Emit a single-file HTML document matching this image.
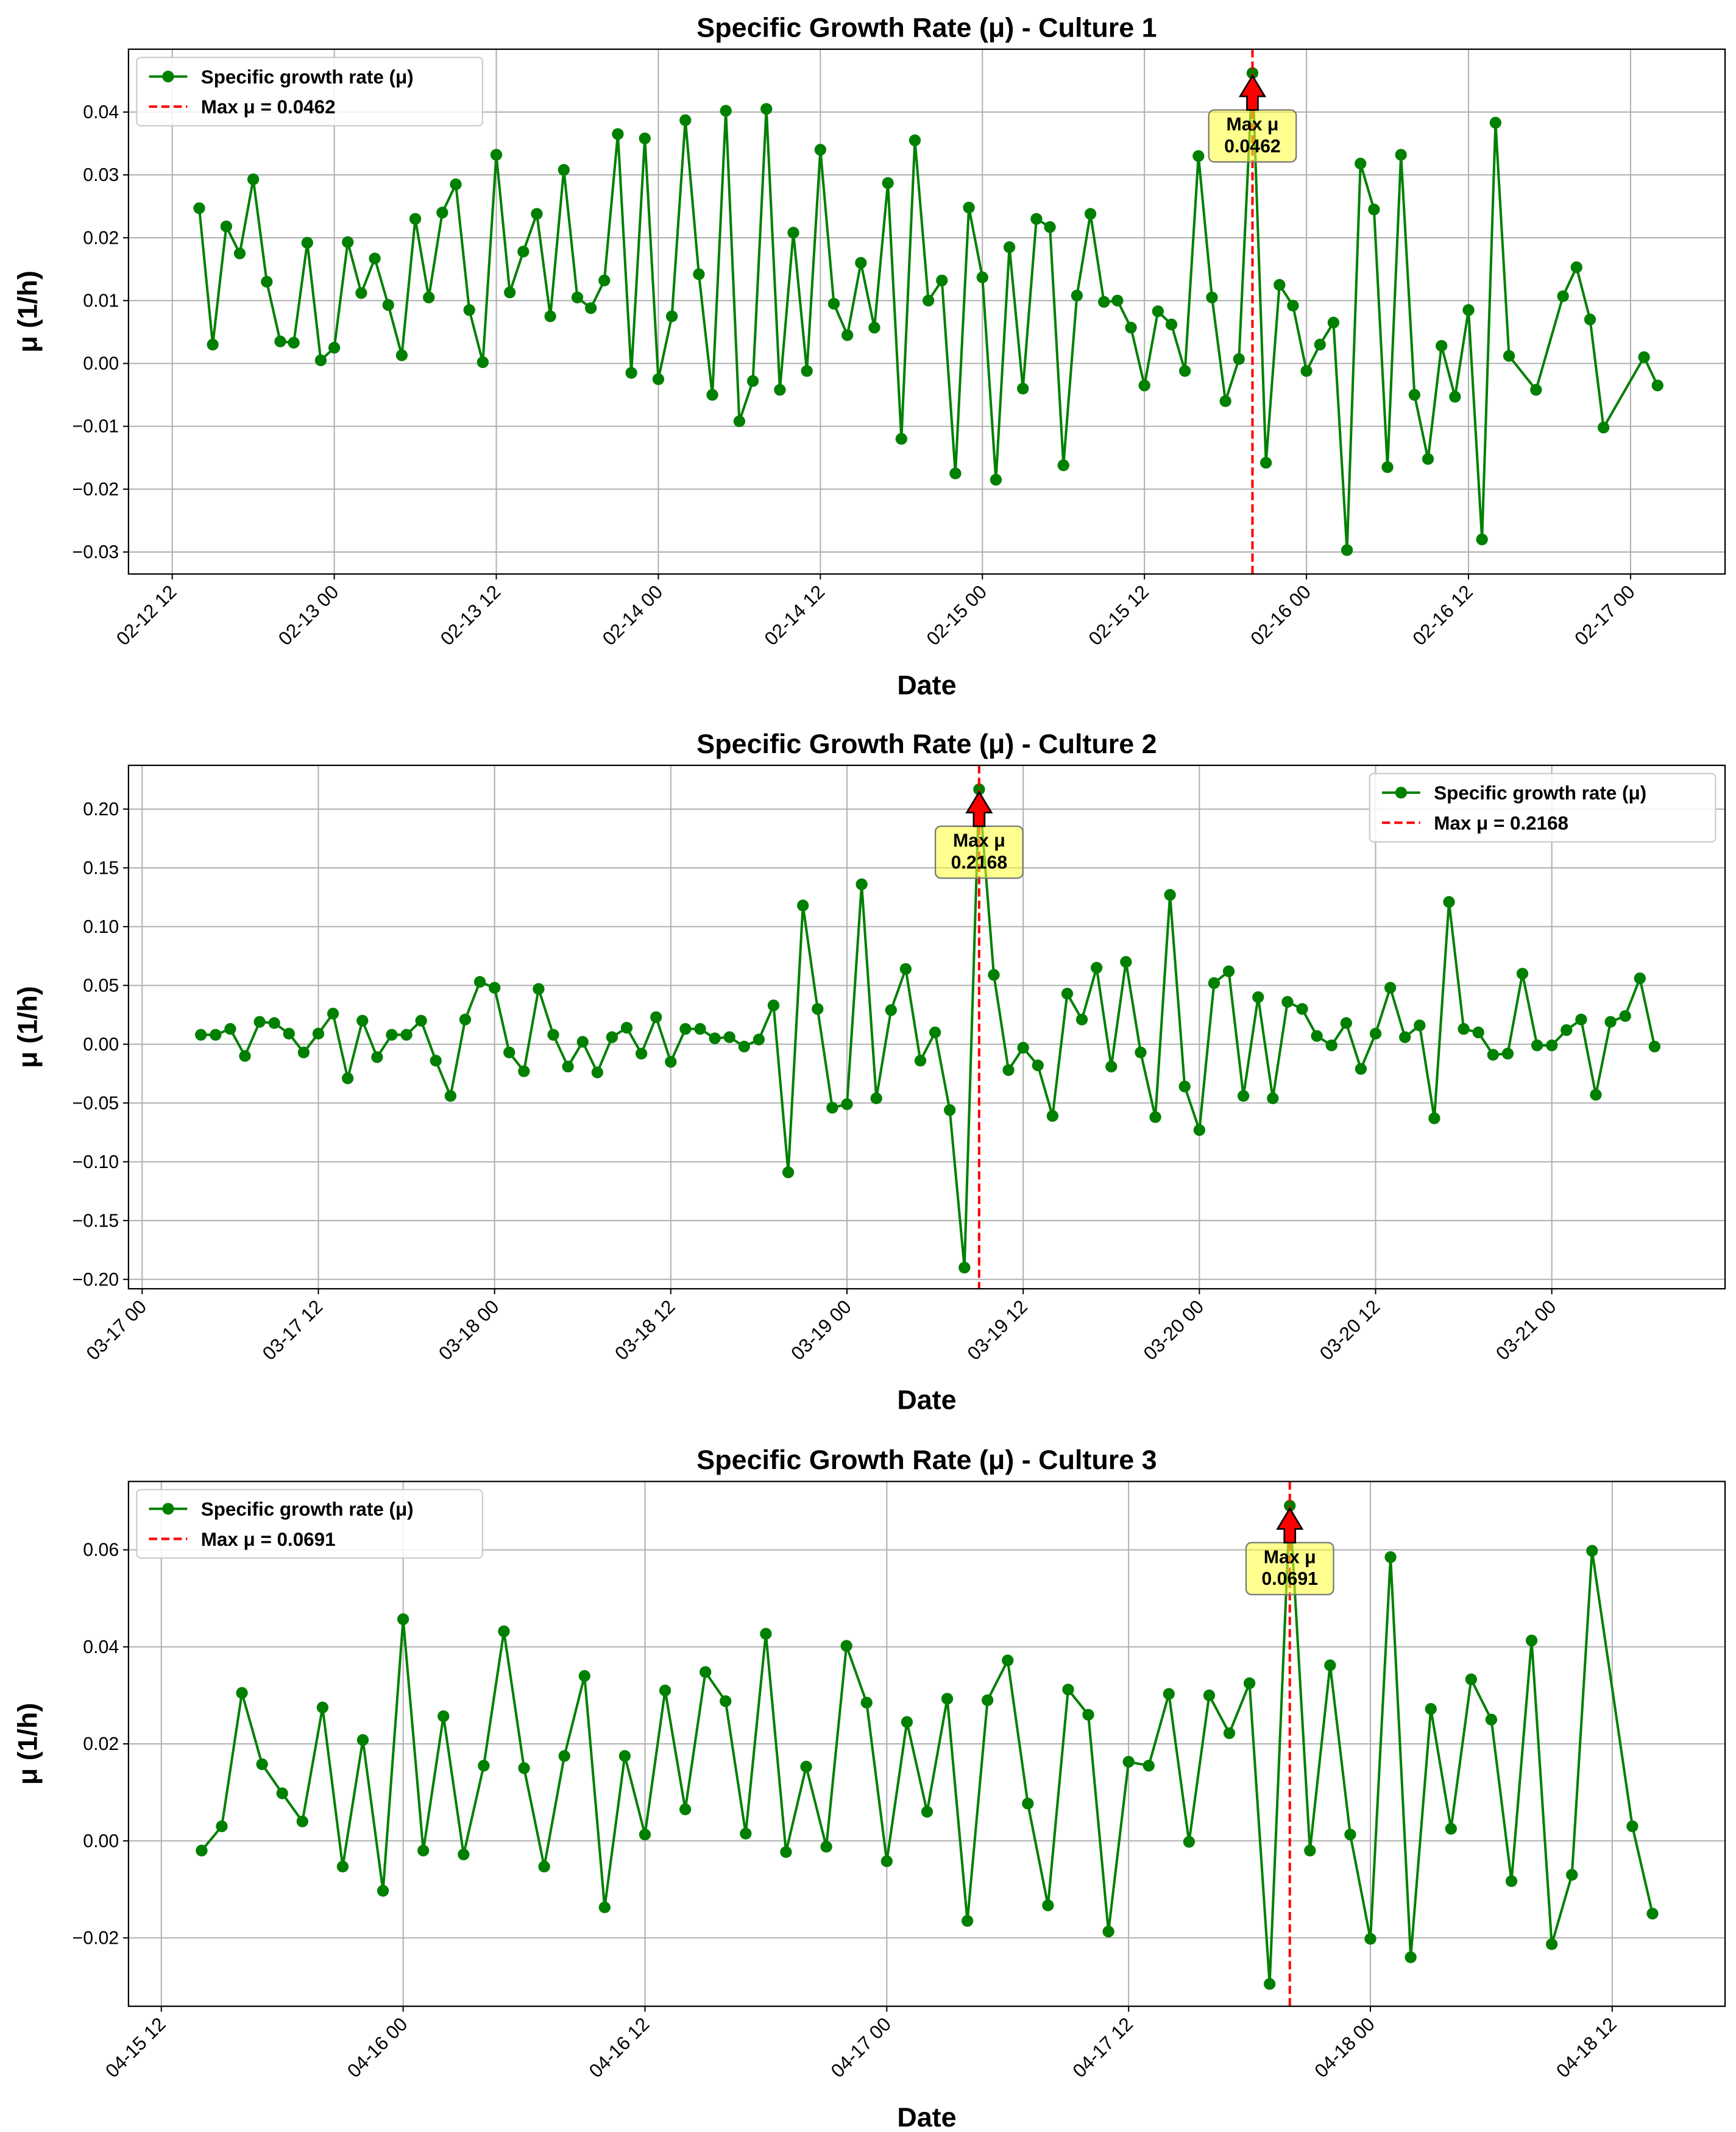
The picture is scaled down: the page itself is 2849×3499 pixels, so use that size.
<!DOCTYPE html>
<html><head><meta charset="utf-8"><style>
html,body{margin:0;padding:0;background:#fff;}
svg{display:block;font-family:"Liberation Sans","DejaVu Sans",sans-serif;}
</style></head><body>
<svg id="fig" width="2849" height="3499" viewBox="0 0 1270 1560" preserveAspectRatio="none" xmlns="http://www.w3.org/2000/svg"></svg>
<script>
// ---- Culture 1 data (hours since 02-12 12:00) ----
const c1Hours=[2,3,4,5,6,7,8,9,10,11,12,13,14,15,16,17,18,19,20,21,22,23,24,25,26,27,28,29,30,31,32,33,34,35,36,37,38,39,40,41,42,43,44,45,46,47,48,49,50,51,52,53,54,55,56,57,58,59,60,61,62,63,64,65,66,67,68,69,70,71,72,73,74,75,76,77,78,79,80,81,82,83,84,85,86,87,88,89,90,91,92,93,94,95,96,97,98,99,101,103,104,105,106,109,110];
const c1Mu=[.0247,.0030,.0218,.0175,.0293,.0130,.0035,.0033,.0192,.0005,.0025,.0193,.0112,.0167,.0093,.0013,.0230,.0105,.0240,.0285,.0085,.0002,.0332,.0113,.0178,.0238,.0075,.0308,.0105,.0088,.0132,.0365,-.0015,.0358,-.0025,.0075,.0387,.0142,-.0050,.0402,-.0092,-.0028,.0405,-.0042,.0208,-.0012,.0340,.0095,.0045,.0160,.0057,.0287,-.0120,.0355,.0100,.0132,-.0175,.0248,.0137,-.0185,.0185,-.0040,.0230,.0217,-.0162,.0108,.0238,.0098,.0100,.0057,-.0035,.0083,.0062,-.0012,.0330,.0105,-.0060,.0007,.0462,-.0158,.0125,.0092,-.0012,.0030,.0065,-.0297,.0318,.0245,-.0165,.0332,-.0050,-.0152,.0028,-.0053,.0085,-.0280,.0383,.0012,-.0042,.0107,.0153,.0070,-.0102,.0010,-.0035];
const c1XTickHours=[0,12,24,36,48,60,72,84,96,108];
const c1XTickLabels=["02-12 12","02-13 00","02-13 12","02-14 00","02-14 12","02-15 00","02-15 12","02-16 00","02-16 12","02-17 00"];
const c1YTicks=[-0.03,-0.02,-0.01,0,0.01,0.02,0.03,0.04];
const c1YTickLabels=["\u22120.03","\u22120.02","\u22120.01","0.00","0.01","0.02","0.03","0.04"];
// ---- Culture 2 data (hours since 03-17 00:00) ----
const c2Hours=[4,5,6,7,8,9,10,11,12,13,14,15,16,17,18,19,20,21,22,23,24,25,26,27,28,29,30,31,32,33,34,35,36,37,38,39,40,41,42,43,44,45,46,47,48,49,50,51,52,53,54,55,56,57,58,59,60,61,62,63,64,65,66,67,68,69,70,71,72,73,74,75,76,77,78,79,80,81,82,83,84,85,86,87,88,89,90,91,92,93,94,95,96,97,98,99,100,101,102,103];
const c2Mu=[.008,.008,.013,-.010,.019,.018,.009,-.007,.009,.026,-.029,.020,-.011,.008,.008,.020,-.014,-.044,.021,.053,.048,-.007,-.023,.047,.008,-.019,.002,-.024,.006,.014,-.008,.023,-.015,.013,.013,.005,.006,-.002,.004,.033,-.109,.118,.030,-.054,-.051,.136,-.046,.029,.064,-.014,.010,-.056,-.190,.2168,.059,-.022,-.003,-.018,-.061,.043,.021,.065,-.019,.070,-.007,-.062,.127,-.036,-.073,.052,.062,-.044,.040,-.046,.036,.030,.007,-.001,.018,-.021,.009,.048,.006,.016,-.063,.121,.013,.010,-.009,-.008,.060,-.001,-.001,.012,.021,-.043,.019,.024,.056,-.002];
const c2XTickHours=[0,12,24,36,48,60,72,84,96];
const c2XTickLabels=["03-17 00","03-17 12","03-18 00","03-18 12","03-19 00","03-19 12","03-20 00","03-20 12","03-21 00"];
const c2YTicks=[-0.20,-0.15,-0.10,-0.05,0,0.05,0.10,0.15,0.20];
const c2YTickLabels=["\u22120.20","\u22120.15","\u22120.10","\u22120.05","0.00","0.05","0.10","0.15","0.20"];
// ---- Culture 3 data (hours since 04-15 12:00) ----
const c3Hours=[2,3,4,5,6,7,8,9,10,11,12,13,14,15,16,17,18,19,20,21,22,23,24,25,26,27,28,29,30,31,32,33,34,35,36,37,38,39,40,41,42,43,44,45,46,47,48,49,50,51,52,53,54,55,56,57,58,59,60,61,62,63,64,65,66,67,68,69,70,71,73,74];
const c3Mu=[-.002,.003,.0305,.0158,.0098,.0040,.0275,-.0053,.0208,-.0103,.0457,-.0020,.0257,-.0028,.0155,.0432,.0150,-.0053,.0175,.0340,-.0137,.0175,.0013,.0310,.0065,.0348,.0288,.0015,.0427,-.0023,.0153,-.0012,.0402,.0285,-.0042,.0245,.0060,.0293,-.0165,.0290,.0372,.0077,-.0133,.0312,.0260,-.0187,.0163,.0155,.0303,-.0002,.0300,.0222,.0325,-.0295,.0691,-.0020,.0362,.0013,-.0202,.0585,-.0240,.0272,.0025,.0333,.0250,-.0083,.0413,-.0213,-.0070,.0598,.0030,-.0150];
const c3XTickHours=[0,12,24,36,48,60,72];
const c3XTickLabels=["04-15 12","04-16 00","04-16 12","04-17 00","04-17 12","04-18 00","04-18 12"];
const c3YTicks=[-0.02,0,0.02,0.04,0.06];
const c3YTickLabels=["\u22120.02","0.00","0.02","0.04","0.06"];

const NS="http://www.w3.org/2000/svg";
const fig=document.getElementById('fig');
function mk(tag,attrs,parent){const e=document.createElementNS(NS,tag);for(const k in attrs)e.setAttribute(k,attrs[k]);(parent||fig).appendChild(e);return e;}

const panels=[
 {n:1,title:"Specific Growth Rate (\u03bc) - Culture 1",hours:c1Hours,mu:c1Mu,xt:c1XTickHours,xl:c1XTickLabels,yt:c1YTicks,yl:c1YTickLabels,
  L:94,R:1262,T:36,B:420,xmin:-3.24,xmax:115.0,ymin:-0.0335,ymax:0.05,legend:"left",fmt:4},
 {n:2,title:"Specific Growth Rate (\u03bc) - Culture 2",hours:c2Hours,mu:c2Mu,xt:c2XTickHours,xl:c2XTickLabels,yt:c2YTicks,yl:c2YTickLabels,
  L:94,R:1262,T:560,B:943,xmin:-0.93,xmax:107.8,ymin:-0.208,ymax:0.2372,legend:"right",fmt:4},
 {n:3,title:"Specific Growth Rate (\u03bc) - Culture 3",hours:c3Hours,mu:c3Mu,xt:c3XTickHours,xl:c3XTickLabels,yt:c3YTicks,yl:c3YTickLabels,
  L:94,R:1262,T:1084,B:1468,xmin:-1.63,xmax:77.6,ymin:-0.0341,ymax:0.0741,legend:"left",fmt:4}
];

panels.forEach(p=>{
 const g=mk('g',{});
 
 
 const sx=h=>p.L+(h-p.xmin)/(p.xmax-p.xmin)*(p.R-p.L);
 const sy=v=>p.B-(v-p.ymin)/(p.ymax-p.ymin)*(p.B-p.T);
 const t=mk('text',{x:(p.L+p.R)/2,y:p.T-9,'text-anchor':'middle','font-size':20,'font-weight':'bold'},g);
 t.textContent=p.title;
 
 
 p.xt.forEach((h,i)=>{
  const x=sx(h);
  const gl=mk('line',{x1:x,x2:x,y1:p.T,y2:p.B,stroke:'#b0b0b0','stroke-width':0.9},g);
  
  
  mk('line',{x1:x,x2:x,y1:p.B,y2:p.B+4,stroke:'#000','stroke-width':0.9},g);
  const lt=mk('text',{x:x+4,y:p.B+14,'text-anchor':'end','font-size':14,transform:`rotate(-45 ${x+4} ${p.B+14})`},g);
  lt.textContent=p.xl[i];
  
  
 });
 p.yt.forEach((v,i)=>{
  const y=sy(v);
  const gl=mk('line',{x1:p.L,x2:p.R,y1:y,y2:y,stroke:'#b0b0b0','stroke-width':0.9},g);
  
  
  mk('line',{x1:p.L-4,x2:p.L,y1:y,y2:y,stroke:'#000','stroke-width':0.9},g);
  const lt=mk('text',{x:p.L-7,y:y+4.5,'text-anchor':'end','font-size':13.5},g);
  lt.textContent=p.yl[i];
  
  
 });
 const xa=mk('text',{x:(p.L+p.R)/2,y:p.B+88,'text-anchor':'middle','font-size':20,'font-weight':'bold'},g);
 xa.textContent='Date';
 
 
 const yc=(p.T+p.B)/2;
 const ya=mk('text',{x:27,y:yc,'text-anchor':'middle','font-size':20,'font-weight':'bold',transform:`rotate(-90 27 ${yc})`},g);
 ya.textContent='\u03bc (1/h)';
 
 
 let d='';
 p.hours.forEach((h,i)=>{d+=(i?'L':'M')+sx(h).toFixed(2)+','+sy(p.mu[i]).toFixed(2);});
 const ln=mk('path',{d:d,fill:'none',stroke:'#008000','stroke-width':1.8},g);
 
 
 let mi=0;
 p.hours.forEach((h,i)=>{
  if(p.mu[i]>p.mu[mi])mi=i;
  const c=mk('circle',{cx:sx(h),cy:sy(p.mu[i]),r:4.3,fill:'#008000'},g);
  
  
 });
 const mx=sx(p.hours[mi]),my=sy(p.mu[mi]);
 const ml=mk('line',{x1:mx,x2:mx,y1:p.T,y2:p.B,stroke:'#ff0000','stroke-width':1.8,'stroke-dasharray':'6,3'},g);
 
 
 const by=my+27,bw=64,bh=38;
 const box=mk('rect',{x:mx-bw/2,y:by,width:bw,height:bh,rx:4,fill:'#ffff33','fill-opacity':0.55,stroke:'#777','stroke-width':1},g);
 
 
 const a1=mk('text',{x:mx,y:by+15,'text-anchor':'middle','font-size':13.5,'font-weight':'bold'},g);
 a1.textContent='Max \u03bc';
 
 
 const a2=mk('text',{x:mx,y:by+31,'text-anchor':'middle','font-size':13.5,'font-weight':'bold'},g);
 a2.textContent=p.mu[mi].toFixed(p.fmt);
 
 
 const ar=mk('path',{d:`M${mx},${my+2} L${mx+9},${my+17} L${mx+4},${my+17} L${mx+4},${by} L${mx-4},${by} L${mx-4},${my+17} L${mx-9},${my+17} Z`,fill:'#ff0000',stroke:'#000','stroke-width':1.2},g);
 
 
 const fr=mk('rect',{x:p.L,y:p.T,width:p.R-p.L,height:p.B-p.T,fill:'none',stroke:'#000','stroke-width':1},g);
 
 
 const lx=p.legend==='left'?p.L+6:p.R-260, ly=p.T+6;
 const lg=mk('g',{},g);
 
 
 mk('rect',{x:lx,y:ly,width:253,height:50,rx:3,fill:'#fff','fill-opacity':0.85,stroke:'#ccc','stroke-width':1},lg);
 mk('line',{x1:lx+9,x2:lx+37,y1:ly+14,y2:ly+14,stroke:'#008000','stroke-width':1.8},lg);
 mk('circle',{cx:lx+23,cy:ly+14,r:4.3,fill:'#008000'},lg);
 const l1=mk('text',{x:lx+47,y:ly+19,'font-size':14,'font-weight':'bold'},lg);
 l1.textContent='Specific growth rate (\u03bc)';
 
 
 mk('line',{x1:lx+9,x2:lx+37,y1:ly+36,y2:ly+36,stroke:'#ff0000','stroke-width':1.8,'stroke-dasharray':'6,3'},lg);
 const l2=mk('text',{x:lx+47,y:ly+41,'font-size':14,'font-weight':'bold'},lg);
 l2.textContent='Max \u03bc = '+p.mu[mi].toFixed(p.fmt);
 
 
});
</script>
</body></html>
